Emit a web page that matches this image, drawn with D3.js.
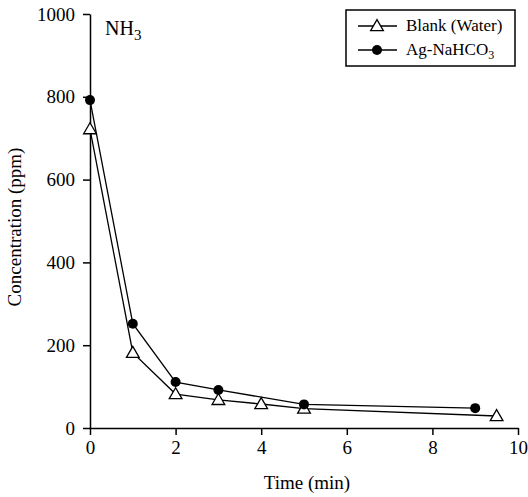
<!DOCTYPE html>
<html><head><meta charset="utf-8">
<script src="https://cdn.jsdelivr.net/npm/d3@7"></script>
<style>body{margin:0;background:#fff}svg{display:block}text{font-family:"Liberation Serif","Times New Roman",serif;fill:#000}</style>
</head><body><svg id="c" width="528" height="497"></svg>
<script>
const blankX = [0, 1, 2, 3, 4, 5, 9.5];
const blankY = [722, 182, 82, 68, 58, 47, 29];
const agX = [0, 1, 2, 3, 5, 9];
const agY = [792, 252, 111, 92, 57, 48];
const xTicks = [0, 2, 4, 6, 8, 10];
const yTicks = [0, 200, 400, 600, 800, 1000];
const seriesNames = ["Blank (Water)", "Ag-NaHCO\u2083"];

const svg = d3.select("#c");
const m = {l: 90, r: 10, t: 14, b: 69};
const W = 528, H = 497;
const x = d3.scaleLinear().domain([0, 10]).range([m.l, W - m.r]);
const y = d3.scaleLinear().domain([0, 1000]).range([H - m.b, m.t]);

const gx = svg.append("g").attr("transform", `translate(0,${y(0)})`)
  .call(d3.axisBottom(x).tickValues(xTicks).tickFormat(d3.format("d")).tickSize(7).tickPadding(6).tickSizeOuter(0));
const gy = svg.append("g").attr("transform", `translate(${x(0)},0)`)
  .call(d3.axisLeft(y).tickValues(yTicks).tickFormat(d3.format("d")).tickSize(7).tickPadding(8).tickSizeOuter(0));
[gx, gy].forEach(g => {
  g.attr("font-family", null).attr("font-size", null);
  g.selectAll("path,line").attr("stroke", "#000").attr("stroke-width", 1.5);
  g.selectAll("text").style("font-size", "19px");
});

const line = d3.line().x(d => x(d[0])).y(d => y(d[1]));
const blank = blankX.map((v, i) => [v, blankY[i]]);
const ag = agX.map((v, i) => [v, agY[i]]);

svg.append("path").datum(blank).attr("d", line).attr("fill", "none").attr("stroke", "#000").attr("stroke-width", 1.3);
svg.append("path").datum(ag).attr("d", line).attr("fill", "none").attr("stroke", "#000").attr("stroke-width", 1.3);

const tri = d3.symbol().type(d3.symbolTriangle).size(70);
svg.selectAll(".t").data(blank).enter().append("path")
  .attr("d", tri).attr("transform", d => `translate(${x(d[0])},${y(d[1]) + 1})`)
  .attr("fill", "#fff").attr("stroke", "#000").attr("stroke-width", 1.3);
svg.selectAll(".d").data(ag).enter().append("circle")
  .attr("cx", d => x(d[0])).attr("cy", d => y(d[1])).attr("r", 5).attr("fill", "#000");

// NH3 label
const nh = svg.append("text").attr("x", 105).attr("y", 35).style("font-size", "20px");
nh.append("tspan").text("NH");
nh.append("tspan").text("3").attr("dy", 5).style("font-size", "15px");

// Legend
svg.append("rect").attr("x", 346).attr("y", 10).attr("width", 169).attr("height", 56)
  .attr("fill", "#fff").attr("stroke", "#000").attr("stroke-width", 1.5);
[0, 1].forEach(i => {
  const ly = 26 + i * 24;
  svg.append("line").attr("x1", 358).attr("x2", 397).attr("y1", ly).attr("y2", ly).attr("stroke", "#000").attr("stroke-width", 1.3);
  if (i === 0) {
    svg.append("path").attr("d", tri).attr("transform", `translate(377,${ly + 1})`).attr("fill", "#fff").attr("stroke", "#000").attr("stroke-width", 1.3);
  } else {
    svg.append("circle").attr("cx", 377).attr("cy", ly).attr("r", 5).attr("fill", "#000");
  }
});
svg.append("text").attr("x", 406).attr("y", 31).style("font-size", "17px").text(seriesNames[0]);
const t2 = svg.append("text").attr("x", 406).attr("y", 55).style("font-size", "17px");
t2.append("tspan").text("Ag-NaHCO");
t2.append("tspan").text("3").attr("dy", 4).style("font-size", "12px");

// Axis titles
svg.append("text").attr("x", 307).attr("y", 489).attr("text-anchor", "middle").style("font-size", "19px").text("Time (min)");
svg.append("text").attr("transform", `translate(21,227) rotate(-90)`)
  .attr("text-anchor", "middle").style("font-size", "19px").text("Concentration (ppm)");
</script></body></html>
